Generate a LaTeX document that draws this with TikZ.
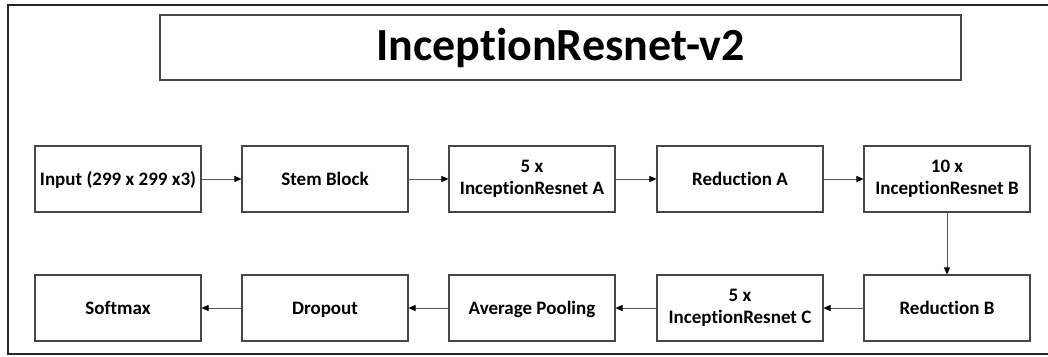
\documentclass[tikz,border=0pt]{standalone}
\usepackage{fontspec}
\setmainfont{Carlito}[Ligatures=CommonOff]
\usetikzlibrary{arrows.meta}
\newcommand{\topstrut}{\rule{0pt}{16pt}}
\newcommand{\botstrut}{\rule[-4pt]{0pt}{4pt}}
\begin{document}
\begin{tikzpicture}[x=1pt,y=-1pt,
  blk/.style={draw=black!72,line width=1.1pt,minimum width=166pt,minimum height=66pt,
    inner sep=0pt,align=center,font=\fontsize{19}{21.8}\selectfont\bfseries,
    execute at begin node={\topstrut}, execute at end node={\botstrut}},
  conn/.style={draw=black!65,line width=1pt,-{Triangle[length=7pt,width=6pt,color=black]}}]
\useasboundingbox (0,0) rectangle (1048,356);
\draw[line width=2pt,black!85] (1049,5) -- (8,5) -- (8,354) -- (1049,354);
\node[draw=black!72,line width=1.1pt,minimum width=801pt,minimum height=65pt,inner sep=0pt,
  font=\fontsize{46}{50}\selectfont\bfseries] (title) at (560.5,47.5) {InceptionResnet-v2};
\node[blk] (in) at (118,179) {Input (299 x 299 x3)};
\node[blk] (stem) at (325,179) {Stem Block};
\node[blk] (ira) at (532,179) {5 x\\InceptionResnet A};
\node[blk] (reda) at (740,179) {Reduction A};
\node[blk] (irb) at (947,179) {10 x\\InceptionResnet B};
\node[blk] (redb) at (947,308) {Reduction B};
\node[blk] (irc) at (740,308) {5 x\\InceptionResnet C};
\node[blk] (avg) at (532,308) {Average Pooling};
\node[blk] (drop) at (325,308) {Dropout};
\node[blk] (soft) at (118,308) {Softmax};
\draw[conn] (in) -- (stem);
\draw[conn] (stem) -- (ira);
\draw[conn] (ira) -- (reda);
\draw[conn] (reda) -- (irb);
\draw[conn] (irb) -- (redb);
\draw[conn] (redb) -- (irc);
\draw[conn] (irc) -- (avg);
\draw[conn] (avg) -- (drop);
\draw[conn] (drop) -- (soft);
\end{tikzpicture}
\end{document}
